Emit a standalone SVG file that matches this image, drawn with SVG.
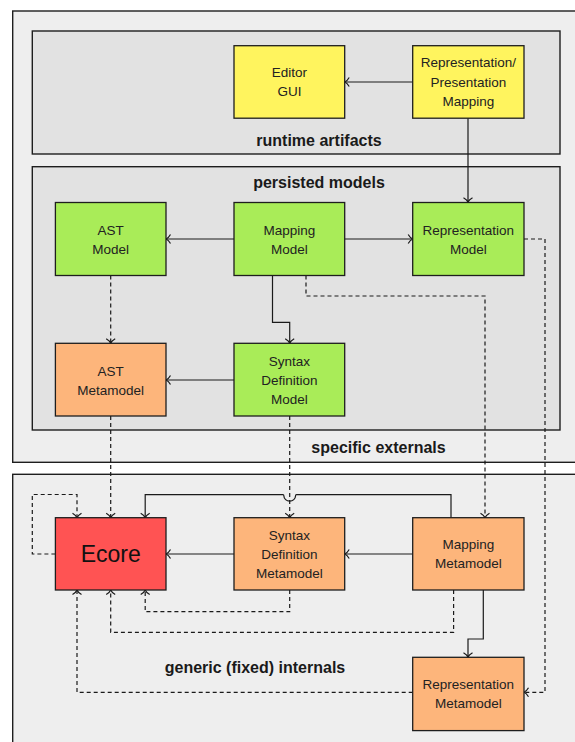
<svg xmlns="http://www.w3.org/2000/svg" width="575" height="742" viewBox="0 0 575 742">
  <style>
    .area { stroke: #1e1e1e; stroke-width: 1.4; }
    .outer { fill: #eeeeee; }
    .inner { fill: #e2e2e2; }
    .node { stroke: #1e1e1e; stroke-width: 1.3; }
    .yellow { fill: #fff45e; }
    .green { fill: #a9ec58; }
    .orange { fill: #fdb57b; }
    .red { fill: #ff5353; }
    .label { font-family: "Liberation Sans", Arial, sans-serif; font-size: 13.5px; fill: #222; text-anchor: middle; }
    .title { font-family: "Liberation Sans", Arial, sans-serif; font-size: 16px; font-weight: bold; fill: #1a1a1a; text-anchor: middle; }
    .big { font-family: "Liberation Sans", Arial, sans-serif; font-size: 23px; fill: #111; text-anchor: middle; }
    .solid { fill: none; stroke: #1a1a1a; stroke-width: 1.2; marker-end: url(#arrow); }
    .dashed { fill: none; stroke: #1a1a1a; stroke-width: 1.2; stroke-dasharray: 4 3; marker-end: url(#arrow); }
  </style>
  <defs>
    <marker id="arrow" markerUnits="userSpaceOnUse" markerWidth="12" markerHeight="12" refX="10" refY="6" orient="auto" overflow="visible">
      <path d="M5.5,1.5 Q7.5,5 10,6 Q7.5,7 5.5,10.5" fill="none" stroke="#1a1a1a" stroke-width="1.2"/>
    </marker>
  </defs>

  <rect width="575" height="742" fill="#ffffff"/>

  <!-- areas -->
  <g id="specific-externals">
    <rect class="area outer" x="12.7" y="11" width="580" height="451.3"/>
    <text class="title" x="378.5" y="453">specific externals</text>
  </g>
  <g id="runtime-artifacts">
    <rect class="area inner" x="32.3" y="31" width="527.7" height="123"/>
    <text class="title" x="319" y="146">runtime artifacts</text>
  </g>
  <g id="persisted-models">
    <rect class="area inner" x="32.3" y="166.7" width="527.7" height="263.3"/>
    <text class="title" x="319" y="188">persisted models</text>
  </g>
  <g id="generic-internals">
    <rect class="area outer" x="12.7" y="474.3" width="580" height="280"/>
    <text class="title" x="255" y="673">generic (fixed) internals</text>
  </g>

  <!-- connectors -->
  <g id="connectors">
    <path class="solid" d="M412.7,82 L344.7,82"/>
    <path class="solid" d="M468,118.3 L468,202.3"/>
    <path class="solid" d="M234,239 L166,239"/>
    <path class="solid" d="M344.7,239 L412.7,239"/>
    <path class="solid" d="M272.5,275.5 L272.5,322.3 L289.7,322.3 L289.7,343.3"/>
    <path class="dashed" d="M306,275.5 L306,296 L485,296 L485,517.7"/>
    <path class="dashed" d="M524,239 L545,239 L545,692.3 L524,692.3"/>
    <path class="dashed" d="M110.7,275.5 L110.7,343.3"/>
    <path class="solid" d="M234,380 L166,380"/>
    <path class="dashed" d="M110.7,416 L110.7,517.7"/>
    <path class="dashed" d="M289.7,416 L289.7,517.7"/>
    <path class="dashed" d="M55.4,554 L32.3,554 L32.3,494.5 L77,494.5 L77,517.7"/>
    <path class="solid" d="M451,517.7 L451,494.7 L296.5,494.7 Q295.5,494.7 295.5,496 A5.8,5.2 0 0 1 283.9,496 Q283.9,494.7 282.9,494.7 L145.2,494.7 L145.2,517.7"/>
    <path class="solid" d="M234,554 L166,554"/>
    <path class="solid" d="M412.7,554 L344.7,554"/>
    <path class="dashed" d="M289.7,590 L289.7,611.7 L145.2,611.7 L145.2,590"/>
    <path class="dashed" d="M453.6,590 L453.6,632.3 L110.7,632.3 L110.7,590"/>
    <path class="solid" d="M483.3,590 L483.3,639 L468,639 L468,657.3"/>
    <path class="dashed" d="M412.7,692.3 L77,692.3 L77,590"/>
  </g>

  <!-- nodes -->
  <g id="editor-gui">
    <rect class="node yellow" x="234" y="45.7" width="110.7" height="72.5"/>
    <text class="label" x="289.4" y="77">Editor</text>
    <text class="label" x="289.4" y="96">GUI</text>
  </g>
  <g id="representation-presentation-mapping">
    <rect class="node yellow" x="412.7" y="45.7" width="111.3" height="72.5"/>
    <text class="label" x="468.3" y="67">Representation/</text>
    <text class="label" x="468.3" y="86.5">Presentation</text>
    <text class="label" x="468.3" y="105.5">Mapping</text>
  </g>
  <g id="ast-model">
    <rect class="node green" x="55.4" y="202.5" width="110.6" height="73"/>
    <text class="label" x="110.7" y="234.5">AST</text>
    <text class="label" x="110.7" y="253.5">Model</text>
  </g>
  <g id="mapping-model">
    <rect class="node green" x="234" y="202.5" width="110.7" height="73"/>
    <text class="label" x="289.4" y="234.5">Mapping</text>
    <text class="label" x="289.4" y="253.5">Model</text>
  </g>
  <g id="representation-model">
    <rect class="node green" x="412.7" y="202.5" width="111.3" height="73"/>
    <text class="label" x="468.3" y="234.5">Representation</text>
    <text class="label" x="468.3" y="253.5">Model</text>
  </g>
  <g id="ast-metamodel">
    <rect class="node orange" x="55.4" y="343.3" width="110.6" height="72.7"/>
    <text class="label" x="110.7" y="375.5">AST</text>
    <text class="label" x="110.7" y="394.5">Metamodel</text>
  </g>
  <g id="syntax-definition-model">
    <rect class="node green" x="234" y="343.3" width="110.7" height="72.7"/>
    <text class="label" x="289.4" y="366">Syntax</text>
    <text class="label" x="289.4" y="385">Definition</text>
    <text class="label" x="289.4" y="404">Model</text>
  </g>
  <g id="ecore">
    <rect class="node red" x="55.4" y="517.7" width="110.6" height="72.3"/>
    <text class="big" x="110.7" y="562">Ecore</text>
  </g>
  <g id="syntax-definition-metamodel">
    <rect class="node orange" x="234" y="517.7" width="110.7" height="72.3"/>
    <text class="label" x="289.4" y="539.5">Syntax</text>
    <text class="label" x="289.4" y="558.5">Definition</text>
    <text class="label" x="289.4" y="577.5">Metamodel</text>
  </g>
  <g id="mapping-metamodel">
    <rect class="node orange" x="412.7" y="517.7" width="111.3" height="72.3"/>
    <text class="label" x="468.3" y="549">Mapping</text>
    <text class="label" x="468.3" y="568">Metamodel</text>
  </g>
  <g id="representation-metamodel">
    <rect class="node orange" x="412.7" y="657.3" width="111.3" height="73.3"/>
    <text class="label" x="468.3" y="689">Representation</text>
    <text class="label" x="468.3" y="708">Metamodel</text>
  </g>
</svg>
